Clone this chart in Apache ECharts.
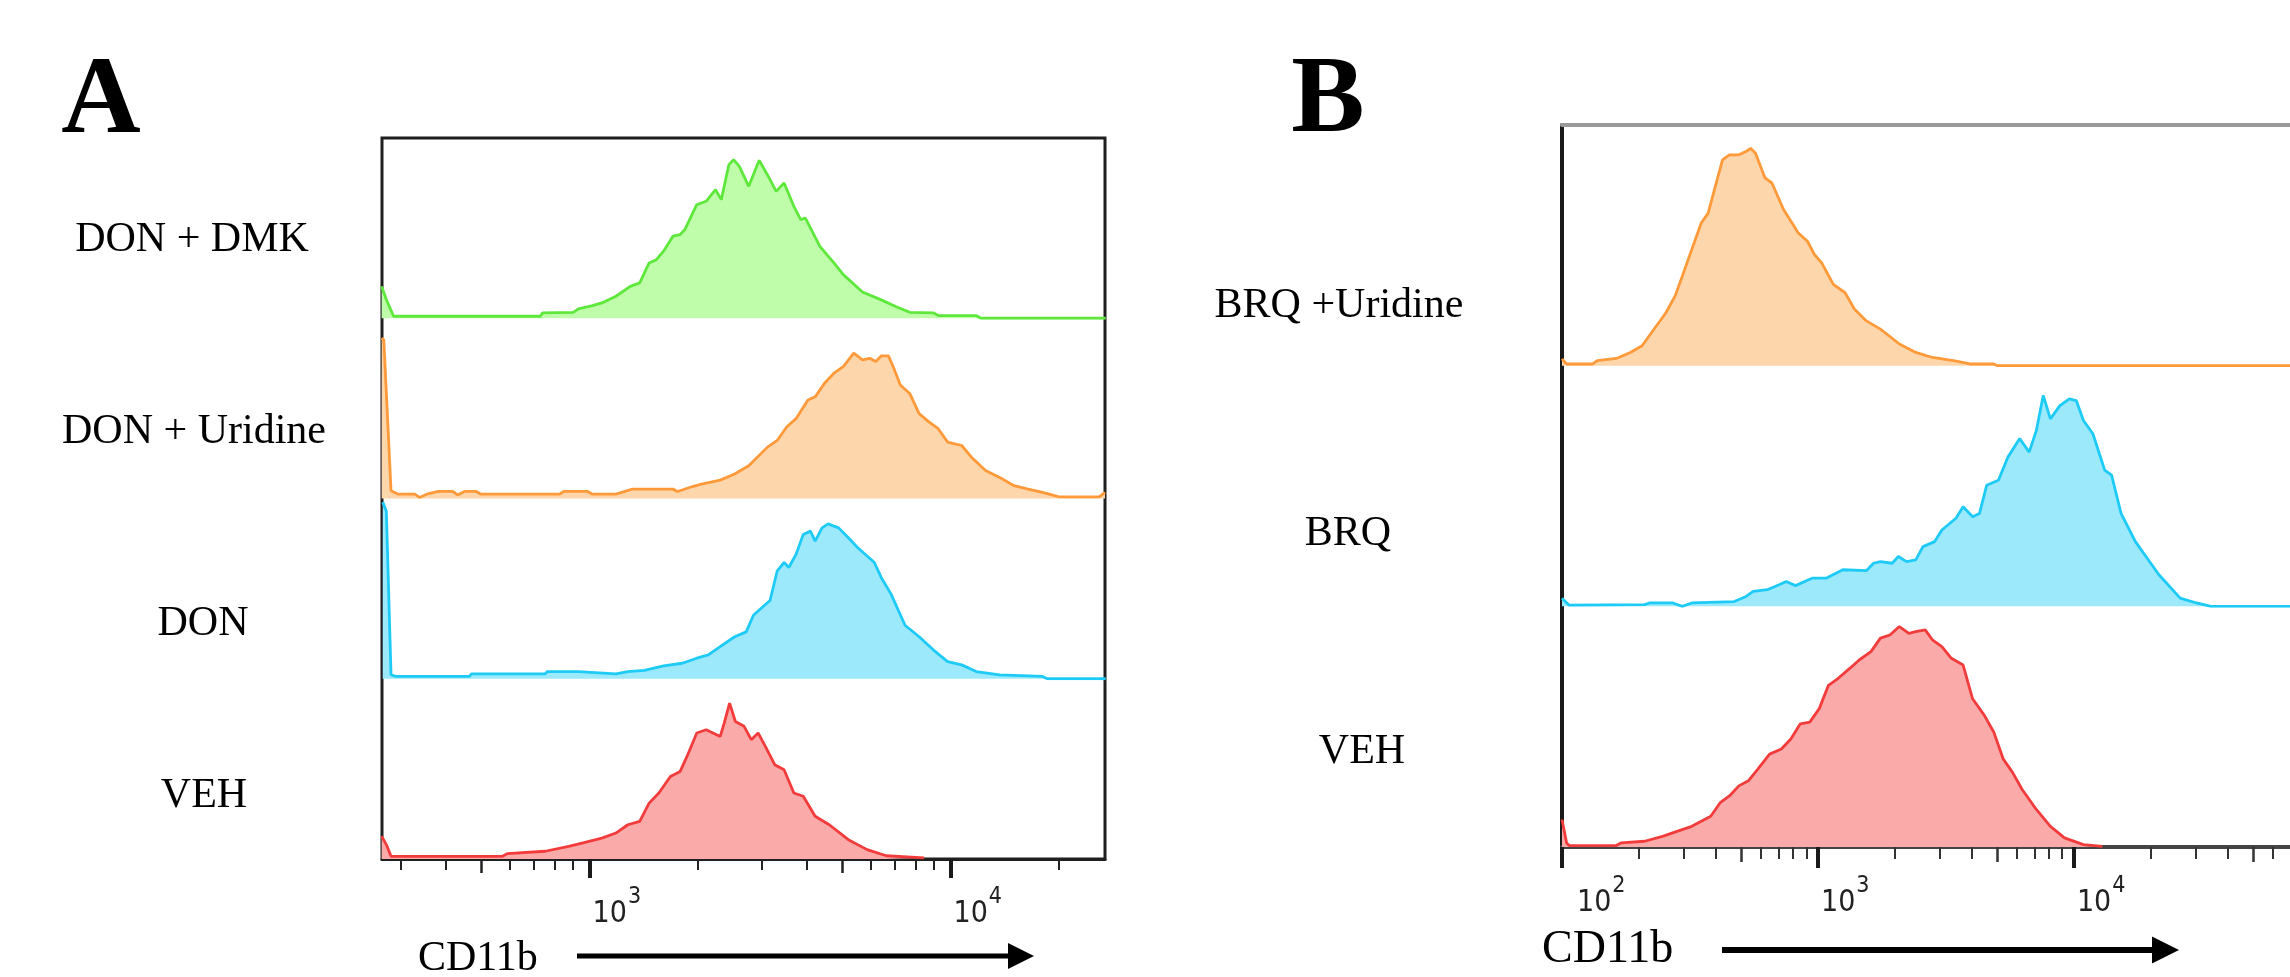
<!DOCTYPE html>
<html>
<head>
<meta charset="utf-8">
<script src="https://cdn.jsdelivr.net/npm/echarts@6/dist/echarts.min.js"></script>
<style>
html, body { margin: 0; padding: 0; background: #fff; }
#chart { width: 2290px; height: 977px; }
</style>
</head>
<body>
<div id="chart"></div>
<script>
// x values are log10(CD11b), y values are % of the row's max count

// panel A
var donDmk = [[2.424,17.7],[2.437,10.4],[2.457,1.1],[2.864,1.1],[2.870,3.0],[2.955,3.3],[2.969,5.2],[3.008,7.0],[3.034,8.5],[3.073,12.2],[3.113,17.7],[3.139,19.6],[3.165,30.7],[3.185,32.5],[3.205,37.2],[3.231,45.5],[3.251,46.4],[3.264,49.2],[3.297,63.0],[3.323,64.9],[3.349,71.3],[3.365,65.8],[3.386,85.2],[3.399,88.0],[3.415,84.3],[3.441,73.2],[3.470,87.6],[3.493,79.5],[3.517,70.4],[3.539,75.0],[3.566,62.1],[3.585,54.7],[3.598,55.6],[3.638,39.9],[3.677,30.7],[3.703,24.2],[3.756,14.6],[3.808,10.2],[3.848,6.5],[3.887,3.3],[3.953,3.0],[3.966,1.5],[4.071,1.5],[4.084,0],[4.43,0]];
var donUri = [[2.424,89],[2.430,88],[2.450,4.3],[2.470,2.4],[2.516,2.4],[2.529,0.6],[2.549,2.4],[2.581,3.9],[2.621,3.9],[2.634,2],[2.654,3.9],[2.686,3.9],[2.699,2.4],[2.916,2.4],[2.929,3.9],[2.995,3.9],[3.008,2.4],[3.073,2.4],[3.119,5.2],[3.231,5.2],[3.244,3.9],[3.283,6.5],[3.310,8],[3.362,10.2],[3.402,13.6],[3.441,18.2],[3.493,28.5],[3.520,32.2],[3.546,39.7],[3.572,44.3],[3.605,54.6],[3.625,56.4],[3.651,63.9],[3.677,69.5],[3.703,73.2],[3.732,80.6],[3.756,76.9],[3.776,77.8],[3.793,76],[3.808,79.1],[3.828,79.1],[3.841,73.2],[3.861,63],[3.887,58.3],[3.913,47.1],[3.940,42.5],[3.966,38.7],[3.992,31.3],[4.031,29.4],[4.058,22.9],[4.097,15.5],[4.136,11.7],[4.176,7.1],[4.215,5.2],[4.255,3.4],[4.301,0.9],[4.412,0.9],[4.428,3.4]];
var don = [[2.427,98],[2.437,93],[2.450,2.2],[2.463,1.3],[2.667,1.3],[2.673,2.7],[2.877,2.7],[2.883,4],[2.969,4],[3.073,2.7],[3.106,4],[3.152,4.6],[3.205,7.1],[3.257,8.6],[3.297,11.4],[3.329,13.2],[3.362,17.8],[3.402,23.3],[3.434,26],[3.454,35.2],[3.474,38.8],[3.500,43.4],[3.520,59.9],[3.539,64.5],[3.552,61.7],[3.572,69],[3.592,80],[3.612,81.9],[3.625,76.4],[3.644,83.7],[3.661,85.9],[3.690,83.7],[3.717,78.2],[3.743,72.7],[3.769,68.1],[3.789,64.5],[3.808,56.2],[3.835,47.1],[3.874,29.7],[3.913,23.3],[3.953,15.9],[3.992,9.5],[4.031,7.7],[4.071,4],[4.136,2.2],[4.255,1.3],[4.268,0],[4.43,0]];
var vehA = [[2.424,12.6],[2.437,8],[2.450,1.5],[2.759,1.5],[2.772,3],[2.877,4.3],[2.942,7],[2.982,8.9],[3.034,11.6],[3.073,14.4],[3.106,19],[3.139,20.9],[3.165,31],[3.192,36.6],[3.224,45.8],[3.251,48.6],[3.270,56.9],[3.297,69.9],[3.323,71.7],[3.362,68],[3.373,75.4],[3.388,86.5],[3.404,76.3],[3.428,73.6],[3.448,66.2],[3.467,69.9],[3.487,62.5],[3.513,52.3],[3.539,49.5],[3.566,36.6],[3.592,34.8],[3.625,23.7],[3.664,19],[3.717,10.7],[3.769,5.2],[3.822,1.8],[3.927,0.6]];

// panel B
var brqUri = [[2.000,2.8],[2.018,0.7],[2.120,0.7],[2.138,2.1],[2.212,3],[2.267,5.5],[2.313,8.3],[2.350,13.8],[2.406,22],[2.442,29],[2.470,37.2],[2.507,48.3],[2.544,59.3],[2.571,63.4],[2.599,74.5],[2.627,85.5],[2.654,87.6],[2.691,87.6],[2.719,89],[2.737,90.3],[2.756,88.3],[2.793,78],[2.820,75.9],[2.866,64.8],[2.903,58.6],[2.922,55.2],[2.959,51.7],[2.986,46.2],[3.014,42.8],[3.060,33.8],[3.106,30.3],[3.143,23.4],[3.189,18.6],[3.244,15.2],[3.318,9],[3.382,5.5],[3.447,3.4],[3.530,2.1],[3.594,0.7],[3.687,0.7],[3.701,0],[4.844,0]];
var brq = [[2.000,3.4],[2.028,0.5],[2.323,0.7],[2.341,1.4],[2.433,1.4],[2.470,0],[2.507,1.4],[2.673,2],[2.719,4.1],[2.747,6.2],[2.802,6.9],[2.848,9],[2.876,10.3],[2.912,8.6],[2.977,11.7],[3.032,11.7],[3.097,15.2],[3.189,14.8],[3.217,17.9],[3.244,18.6],[3.290,17.9],[3.314,20.7],[3.346,18.6],[3.382,19.3],[3.410,24.8],[3.456,26.9],[3.484,31.7],[3.539,36.6],[3.567,41.4],[3.604,37.2],[3.631,38.6],[3.659,50.3],[3.705,52.4],[3.742,62],[3.788,69.7],[3.825,64.1],[3.853,73],[3.880,87.6],[3.908,77.9],[3.945,83.4],[3.982,86.2],[4.009,85.5],[4.037,77.2],[4.074,71.7],[4.120,56.6],[4.147,54.5],[4.184,38.6],[4.240,26.9],[4.286,20],[4.332,13.1],[4.415,3.4],[4.479,1.4],[4.535,0],[4.844,0]];
var vehB = [[2.000,11.4],[2.018,1.7],[2.028,0.6],[2.212,0.6],[2.230,1.7],[2.323,2.4],[2.396,4.5],[2.452,6.6],[2.507,8.6],[2.581,12.8],[2.618,18.4],[2.654,21.2],[2.691,25.4],[2.728,27.5],[2.765,32.4],[2.811,38.6],[2.857,40.7],[2.894,44.9],[2.931,51.2],[2.968,51.9],[3.005,57.5],[3.041,67.2],[3.078,70],[3.124,74.2],[3.161,77.7],[3.207,81.2],[3.244,86.8],[3.281,88.1],[3.318,91.6],[3.355,88.8],[3.382,89.5],[3.419,90.2],[3.447,86.1],[3.484,83.3],[3.521,78.4],[3.567,75.6],[3.604,61.6],[3.650,54.7],[3.687,47.7],[3.724,36.5],[3.760,31],[3.797,24],[3.853,15.6],[3.908,8.6],[3.963,3.8],[4.037,1],[4.111,0.3]];

var aNames = ['DON + DMK', 'DON + Uridine', 'DON', 'VEH'];
var bNames = ['BRQ +Uridine', 'BRQ', 'VEH'];

// ticks (CD11b intensity)
var aMajor = [1000, 10000];
var aMid = [500, 5000];
var aMinor = [300, 400, 600, 700, 800, 900, 2000, 3000, 4000, 6000, 7000, 8000, 9000, 20000];
var bMajor = [100, 1000, 10000];
var bMid = [500, 5000, 50000];
var bMinor = [200, 300, 400, 600, 700, 800, 900, 2000, 3000, 4000, 6000, 7000, 8000, 9000, 20000, 30000, 40000, 60000];

var aRange = [2.425, 4.428];
var bRange = [2.0, 4.844];

var green = ['#5ee83c', '#bffdaa'];
var orange = ['#ff9a3a', '#fed6ac'];
var blue = ['#1ecbf6', '#9de9fc'];
var red = ['#f23c3c', '#fbaaaa'];

var chart = echarts.init(document.getElementById('chart'));

var grids = [], xAxes = [], yAxes = [], series = [];
var tickFont = '"Liberation Sans Narrow", "Arial Narrow", "DejaVu Sans Condensed", sans-serif';

function log10s(arr) {
    return arr.map(function (v) { return Math.log10(v); });
}

function addRow(box, top, height, range, data, col, yLine) {
    var gi = grids.length;
    grids.push({ left: box.left, right: box.right, top: top, height: height });
    xAxes.push({ type: 'value', gridIndex: gi, min: range[0], max: range[1], show: false });
    yAxes.push({
        type: 'value', gridIndex: gi, min: 0, max: 100,
        axisLine: { show: !!yLine, lineStyle: { color: '#1a1a1a', width: 4 } },
        axisTick: { show: false }, axisLabel: { show: false }, splitLine: { show: false }
    });
    series.push({
        type: 'line', xAxisIndex: xAxes.length - 1, yAxisIndex: yAxes.length - 1,
        data: data, symbol: 'none', animation: false,
        lineStyle: { color: col[0], width: 2.8 },
        areaStyle: { color: col[1], opacity: 1 }
    });
    return gi;
}

function tickAxis(gi, range, vals, len, width, color, lbl, line) {
    var ax = {
        type: 'value', gridIndex: gi, position: 'bottom', min: range[0], max: range[1],
        axisLine: line ? { show: true, lineStyle: { color: line[0], width: line[1] } } : { show: false },
        axisTick: { show: true, length: len, lineStyle: { color: color, width: width }, customValues: log10s(vals) },
        splitLine: { show: false },
        axisLabel: { show: false }
    };
    if (lbl) {
        ax.axisLabel = {
            show: true, customValues: log10s(vals), align: 'left', margin: lbl.margin,
            formatter: function (v) {
                var e = Math.round(v);
                var k = (lbl.wide && e === lbl.wide) ? 'w' : 'b';
                return '{' + k + '|10}{s|' + e + '}';
            },
            rich: {
                b: { fontFamily: tickFont, fontSize: 30, lineHeight: 30, color: '#222', padding: [0, 0, 0, 3], verticalAlign: 'bottom' },
                w: { fontFamily: tickFont, fontSize: 30, lineHeight: 30, color: '#222', padding: [0, 0, 0, 15], verticalAlign: 'bottom' },
                s: { fontFamily: tickFont, fontSize: 23, lineHeight: 23, color: '#222', padding: [0, 0, 20, 1], verticalAlign: 'bottom' }
            }
        };
    }
    xAxes.push(ax);
}

// panel A: frame + 4 rows
var boxA = { left: 382, right: 2290 - 1105 };
grids.push({ left: boxA.left, right: boxA.right, top: 138, height: 721, show: true, borderColor: '#1f1f1f', borderWidth: 3, backgroundColor: 'transparent' });
xAxes.push({ type: 'value', gridIndex: 0, show: false });
yAxes.push({ type: 'value', gridIndex: 0, show: false });

var aData = [donDmk, donUri, don, vehA];
var aCols = [green, orange, blue, red];
var rowA = 180.25, gA;
for (var i = 0; i < 4; i++) {
    gA = addRow(boxA, 138 + i * rowA, rowA, aRange, aData[i], aCols[i], false);
}
tickAxis(gA, aRange, aMinor, 11, 2, '#222', null, null);
tickAxis(gA, aRange, aMid, 14, 2.5, '#222', null, null);
tickAxis(gA, aRange, aMajor, 19, 4, '#1a1a1a', { margin: 40 }, ['#1f1f1f', 3]);

// panel B: 3 rows, cut at the right edge
var boxB = { left: 1562, right: 0 };
var bData = [brqUri, brq, vehB];
var bCols = [orange, blue, red];
var rowB = 240.67, gB, gB0;
for (var j = 0; j < 3; j++) {
    gB = addRow(boxB, 125 + j * rowB, rowB, bRange, bData[j], bCols[j], true);
    if (j === 0) gB0 = gB;
}
xAxes.push({
    type: 'value', gridIndex: gB0, position: 'top', min: bRange[0], max: bRange[1],
    axisLine: { show: true, lineStyle: { color: '#9a9a9a', width: 4 } },
    axisTick: { show: false }, axisLabel: { show: false }, splitLine: { show: false }
});
tickAxis(gB, bRange, bMinor, 12, 2, '#333', null, null);
tickAxis(gB, bRange, bMid, 15, 2.5, '#333', null, null);
tickAxis(gB, bRange, bMajor, 21, 4, '#1a1a1a', { margin: 41, wide: 2 }, ['#444', 4]);

function label(text, x, y, font, align) {
    return {
        type: 'text', x: x, y: y, z: 10,
        style: { text: text, font: font, fill: '#000', align: align || 'center', verticalAlign: 'middle',
                 textAlign: align || 'center', textVerticalAlign: 'middle' }
    };
}
function arrow(x1, x2, y, w, head) {
    return [
        { type: 'line', z: 10, shape: { x1: x1, y1: y, x2: x2, y2: y }, style: { stroke: '#000', lineWidth: w } },
        { type: 'polygon', z: 10, shape: { points: [[x2, y - head / 2], [x2 + head, y], [x2, y + head / 2]] }, style: { fill: '#000' } }
    ];
}

var serif = '"Liberation Serif", "Times New Roman", serif';
var aPos = [[192, 240], [194, 432], [203, 624], [204, 796]];
var bPos = [[1339, 306], [1348, 534], [1362, 752]];
var graphic = [
    label('A', 101, 104, 'bold 110px ' + serif),
    label('B', 1328, 103, 'bold 110px ' + serif),
    label('CD11b', 418, 959, '42px ' + serif, 'left'),
    label('CD11b', 1542, 950, '46px ' + serif, 'left')
];
aNames.forEach(function (n, k) { graphic.push(label(n, aPos[k][0], aPos[k][1], '42px ' + serif)); });
bNames.forEach(function (n, k) { graphic.push(label(n, bPos[k][0], bPos[k][1], '42px ' + serif)); });
graphic = graphic.concat(arrow(577, 1008, 956, 5, 26), arrow(1722, 2152, 950, 6, 27));

chart.setOption({
    backgroundColor: '#fff',
    animation: false,
    grid: grids,
    xAxis: xAxes,
    yAxis: yAxes,
    series: series,
    graphic: graphic
});
</script>
</body>
</html>
